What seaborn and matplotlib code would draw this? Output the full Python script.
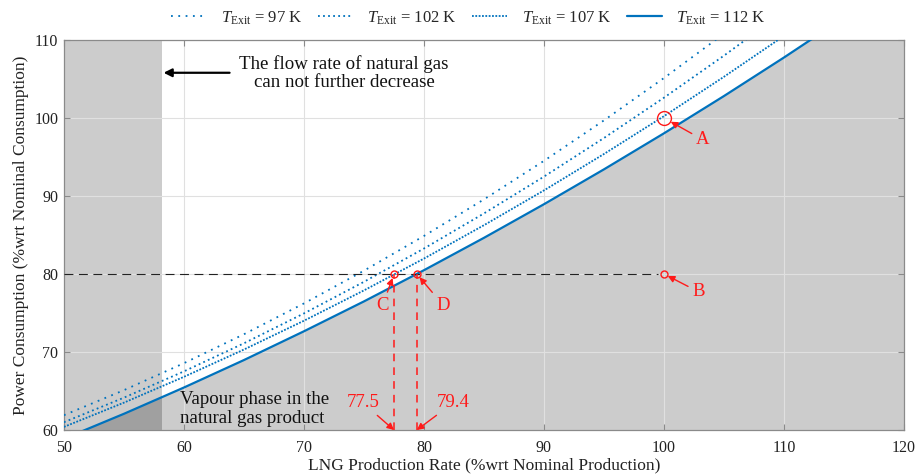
import numpy as np
import pandas as pd
import matplotlib
matplotlib.use("Agg")
import matplotlib.pyplot as plt
import seaborn as sns
from matplotlib.patches import Rectangle

# LNG production rate (% of nominal) and power consumption (% of nominal)
production = [50, 55, 60, 65, 70, 75, 80, 85, 90, 95, 100, 105, 110, 115, 120]
power_97 = [61.90, 65.11, 68.57, 72.28, 76.23, 80.43, 84.88, 89.57, 94.51, 99.70, 105.13, 110.81]
power_102 = [61.00, 64.15, 67.52, 71.12, 74.95, 79.00, 83.27, 87.77, 92.49, 97.44, 102.61, 108.00, 113.62]
power_107 = [60.40, 63.51, 66.82, 70.32, 74.01, 77.90, 81.98, 86.26, 90.72, 95.39, 100.24, 105.29, 110.53]
power_112 = [58.88, 62.08, 65.45, 68.97, 72.66, 76.49, 80.49, 84.64, 88.95, 93.42, 98.04, 102.82, 107.76, 112.86, 118.11]
exit_temps = [97, 102, 107, 112]

# Operating points
min_flow_rate = 58.2          # natural gas flow cannot go below this
power_target = 80.0
point_c = 77.5
point_d = 79.4
point_a = (100.0, 100.0)
point_b = (100.0, 80.0)

x_ticks = [50, 60, 70, 80, 90, 100, 110, 120]
y_ticks = [60, 70, 80, 90, 100, 110]

sns.set_theme(style="ticks")
plt.rcParams["font.family"] = ["Liberation Serif", "DejaVu Serif"]
plt.rcParams["mathtext.fontset"] = "custom"
plt.rcParams["mathtext.rm"] = "Liberation Serif"
plt.rcParams["mathtext.it"] = "Liberation Serif:italic"

rows = []
for temp, series in zip(exit_temps, [power_97, power_102, power_107, power_112]):
    for x, y in zip(production, series):
        rows.append({"production": x, "power": y, "temp": temp})
df = pd.DataFrame(rows)

blue = "#0072BD"
red = "#ff1a1a"
light_gray = "#cccccc"
dark_gray = "#a0a0a0"

fig = plt.figure(figsize=(9.19, 4.74), dpi=100)
ax = fig.add_axes([0.0696, 0.0928, 0.9141, 0.8228])

# Infeasible regions
ax.fill_between(production, power_112, 0, color=light_gray, lw=0, zorder=0.2)
ax.axvspan(50, min_flow_rate, color=light_gray, lw=0, zorder=0.2)
both = ax.fill_between(production, power_112, 0, color=dark_gray, lw=0, zorder=0.3)
both.set_clip_path(Rectangle((50, 60), min_flow_rate - 50, 50, transform=ax.transData))

styles = {
    97: dict(dashes=(1.0, 3.05), lw=1.3),
    102: dict(dashes=(1.0, 1.8), lw=1.3),
    107: dict(dashes=(1.0, 0.85), lw=1.3),
    112: dict(dashes=None, lw=1.6),
}
handles = []
for temp in exit_temps:
    sub = df[df["temp"] == temp]
    st = styles[temp]
    sns.lineplot(data=sub, x="production", y="power", color=blue, lw=st["lw"],
                 ax=ax, legend=False, zorder=3)
    line = ax.lines[-1]
    if st["dashes"] is not None:
        line.set_dashes(st["dashes"])
        line.set_dash_capstyle("butt")
    line.set_label(r"$T_{\mathrm{Exit}}$" + f" = {temp} K")
    handles.append(line)

# Reference lines
ax.plot([50, point_b[0] - 0.5], [power_target, power_target], color="#222222",
        lw=0.8, dashes=(8, 5), zorder=4)
for xv in (point_c, point_d):
    ax.plot([xv, xv], [60, power_target], color=red, lw=1.1, dashes=(5, 4), zorder=4)

# Marked points
ax.plot([point_c, point_d, point_b[0]], [power_target, power_target, point_b[1]],
        ls="none", marker="o", ms=5, mfc="none", mec=red, mew=1.0, zorder=5)
ax.plot([point_a[0]], [point_a[1]], ls="none", marker="o", ms=10, mfc="none",
        mec=red, mew=1.0, zorder=5)

arrow = dict(arrowstyle="-|>", color=red, lw=1.0, mutation_scale=10)
lab_kw = dict(color=red, fontsize=13.5, ha="center", va="center", zorder=6)
ax.annotate("C", xy=(point_c, power_target), xytext=(76.55, 76.0),
            arrowprops=dict(arrow, shrinkA=1, shrinkB=3), **lab_kw)
ax.annotate("D", xy=(point_d, power_target), xytext=(81.6, 76.0),
            arrowprops=dict(arrow, shrinkA=1, shrinkB=3), **lab_kw)
ax.annotate("A", xy=point_a, xytext=(103.25, 97.2),
            arrowprops=dict(arrow, shrinkA=1, shrinkB=5.5), **lab_kw)
ax.annotate("B", xy=point_b, xytext=(102.9, 77.7),
            arrowprops=dict(arrow, shrinkA=1, shrinkB=3), **lab_kw)
num_kw = dict(color=red, fontsize=13.5, ha="center", va="center", zorder=6)
ax.annotate(f"{point_c}", xy=(point_c, 60), xytext=(74.9, 63.5),
            arrowprops=dict(arrow, shrinkA=1, shrinkB=0), **num_kw)
ax.annotate(f"{point_d}", xy=(point_d, 60), xytext=(82.45, 63.5),
            arrowprops=dict(arrow, shrinkA=1, shrinkB=0), **num_kw)

# Text notes
ax.annotate("", xy=(58.3, 105.8), xytext=(63.8, 105.8),
            arrowprops=dict(arrowstyle="-|>", color="black", lw=1.6, mutation_scale=12,
                            shrinkA=0, shrinkB=0), zorder=6)
ax.text(73.33, 105.75, "The flow rate of natural gas\ncan not further decrease",
        fontsize=13.6, ha="center", va="center", multialignment="center",
        linespacing=1.1, color="#111111", zorder=6)
ax.text(59.67, 62.7, "Vapour phase in the\nnatural gas product", fontsize=13.6,
        ha="left", va="center", multialignment="left", linespacing=1.1,
        color="#111111", zorder=6)

# Axes styling
ax.set_xlim(50, 120)
ax.set_ylim(60, 110)
ax.set_xticks(x_ticks)
ax.set_yticks(y_ticks)
ax.set_axisbelow(True)
ax.grid(True, color="#e0e0e0", lw=0.8)
ax.tick_params(direction="in", length=4, width=0.8, color="#8a8a8a",
               top=True, right=True, labelsize=11.5, labelcolor="#222222")
ax.tick_params(axis="x", pad=7)
ax.tick_params(axis="y", pad=4)
for sp in ax.spines.values():
    sp.set_color("#8a8a8a")
    sp.set_linewidth(0.9)
ax.set_xlabel("LNG Production Rate (%wrt Nominal Production)", fontsize=12.5,
              color="#222222", labelpad=1)
ax.set_ylabel("Power Consumption (%wrt Nominal Consumption)", fontsize=12.5,
              color="#222222", labelpad=4)

fig.legend(handles=handles, loc="center", bbox_to_anchor=(0.51, 0.962), ncol=4,
           frameon=False, fontsize=12, handlelength=2.1, handletextpad=0.85,
           columnspacing=0.95)

fig.savefig("out.png", dpi=100)
